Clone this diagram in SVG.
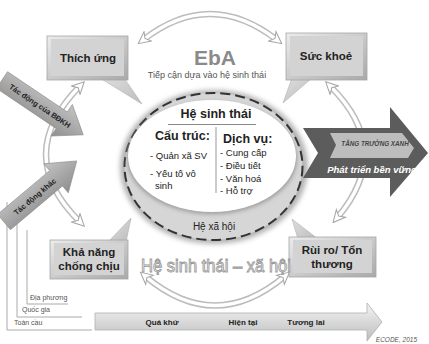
<svg xmlns="http://www.w3.org/2000/svg" width="429" height="344" viewBox="0 0 429 344">
<defs>
<style>
.t{font-family:"Liberation Sans",Arial,sans-serif;fill:#222}
.b{font-weight:bold}
.arcO{fill:none;stroke:#bcbcbc;stroke-width:6.5}
.arcI{fill:none;stroke:#fff;stroke-width:3.5;marker-start:url(#ha);marker-end:url(#ha)}
.scale{fill:none;stroke:#a0a0a0;stroke-width:0.9}
.st{font-family:"Liberation Sans",Arial,sans-serif;font-size:7px;fill:#555}
.boxO{fill:url(#boxg);stroke:#a5a5a5;stroke-width:0.8}
.boxI{fill:#d3d3d3}
.tail{fill:url(#tailg);stroke:#b0b0b0;stroke-width:0.6}
</style>
<marker id="ha" viewBox="0 0 14 14" refX="7" refY="7" markerWidth="14" markerHeight="14" markerUnits="userSpaceOnUse" orient="auto-start-reverse">
<path d="M1,1 L13,7 L1,13 L4.5,7 Z" fill="#fff" stroke="#a5a5a5" stroke-width="1"/>
</marker>
<linearGradient id="boxg" x1="0" y1="0" x2="1" y2="1">
<stop offset="0" stop-color="#ececec"/>
<stop offset="1" stop-color="#a9a9a9"/>
</linearGradient>
<linearGradient id="tailg" x1="0" y1="0" x2="1" y2="1">
<stop offset="0" stop-color="#dedede"/>
<stop offset="1" stop-color="#bdbdbd"/>
</linearGradient>
<linearGradient id="arrg" x1="0" y1="0" x2="0" y2="1">
<stop offset="0" stop-color="#c4c4c4"/>
<stop offset="1" stop-color="#8e8e8e"/>
</linearGradient>
<linearGradient id="timeg" x1="0" y1="0" x2="0" y2="1">
<stop offset="0" stop-color="#f4f4f4"/>
<stop offset="1" stop-color="#bdbdbd"/>
</linearGradient>
<filter id="blur" x="-20%" y="-20%" width="140%" height="140%">
<feGaussianBlur stdDeviation="2.5"/>
</filter>
<filter id="blur2" x="-20%" y="-20%" width="140%" height="140%">
<feGaussianBlur stdDeviation="2"/>
</filter>
</defs>
<rect width="429" height="344" fill="#fff"/>

<g id="connectors">
<path class="arcO" d="M143,40 Q210,-12 277,40"/>
<path class="arcI" d="M143,40 Q210,-12 277,40"/>
<path class="arcO" d="M80,222 Q12,155 80,86"/>
<path class="arcI" d="M80,222 Q12,155 80,86"/>
<path class="arcO" d="M330,86 Q395,150 337,218"/>
<path class="arcI" d="M330,86 Q395,150 337,218"/>
<path class="arcO" d="M145,276 Q215,335 285,276"/>
<path class="arcI" d="M145,276 Q215,335 285,276"/>
</g>

<g id="scales">
<path class="scale" d="M27,230 V304 H68"/>
<path class="scale" d="M17,215 V317 H82"/>
<path class="scale" d="M7,202 V330 H92"/>
<text class="st" x="30" y="300">Địa phương</text>
<text class="st" x="22" y="312">Quốc gia</text>
<text class="st" x="14" y="325">Toàn cầu</text>
</g>

<g id="timeline">
<path d="M95,313 H367 V303 L382,322 L367,341 V330 H95 Z" fill="url(#timeg)" stroke="#b0b0b0" stroke-width="0.8"/>
<text class="t b" x="162" y="325" font-size="8" text-anchor="middle" fill="#333">Quá khứ</text>
<text class="t b" x="243" y="325" font-size="8" text-anchor="middle" fill="#333">Hiện tại</text>
<text class="t b" x="306" y="325" font-size="8" text-anchor="middle" fill="#333">Tương lai</text>
</g>
<text x="417" y="342" font-family="Liberation Sans,Arial,sans-serif" font-size="6.5" font-style="italic" fill="#555" text-anchor="end">ECODE, 2015</text>

<g id="eba">
<text x="215" y="65" font-family="Liberation Sans,Arial,sans-serif" font-size="21" font-weight="bold" fill="#8a8a8a" text-anchor="middle">EbA</text>
<text x="207" y="78" font-family="Liberation Sans,Arial,sans-serif" font-size="9" fill="#555" text-anchor="middle">Tiếp cận dựa vào hệ sinh thái</text>
</g>

<g id="center">
<ellipse cx="214" cy="167" rx="94" ry="77" fill="#b3b3b3" filter="url(#blur)"/>
<ellipse cx="213.5" cy="166.5" rx="89" ry="73.5" fill="#d6d6d6" stroke="#333" stroke-width="2" stroke-dasharray="10 5"/>
<ellipse cx="212" cy="158" rx="85" ry="56" fill="#9c9c9c" filter="url(#blur2)"/>
<ellipse cx="212" cy="156" rx="84" ry="56" fill="#fff"/>
<text class="t b" x="216" y="118" font-size="12.5" text-anchor="middle">Hệ sinh thái</text>
<line x1="168" y1="124.5" x2="256" y2="124.5" stroke="#888" stroke-width="1"/>
<line x1="216" y1="127" x2="216" y2="193" stroke="#999" stroke-width="1"/>
<text class="t b" x="155" y="140" font-size="12.5">Cấu trúc:</text>
<text class="t" x="150" y="159" font-size="9.5">- Quản xã SV</text>
<text class="t" x="150" y="177" font-size="9.5">- Yếu tố vô</text>
<text class="t" x="155" y="189" font-size="9.5">sinh</text>
<text class="t b" x="223" y="143" font-size="12.5">Dịch vụ:</text>
<text class="t" x="220" y="156" font-size="9.5">- Cung cấp</text>
<text class="t" x="220" y="169" font-size="9.5">- Điều tiết</text>
<text class="t" x="220" y="182" font-size="9.5">- Văn hoá</text>
<text class="t" x="220" y="194" font-size="9.5">- Hỗ trợ</text>
<text class="t" x="214" y="230" font-size="10" text-anchor="middle">Hệ xã hội</text>
</g>

<g id="thich-ung">
<polygon class="tail" points="100,78 124,78 142,104"/>
<rect class="boxO" x="47" y="36" width="81" height="44"/>
<rect class="boxI" x="51" y="39" width="73" height="37"/>
<text class="t b" x="88" y="62" font-size="11.5" text-anchor="middle">Thích ứng</text>
</g>

<g id="suc-khoe">
<polygon class="tail" points="292,78 312,78 283,103"/>
<rect class="boxO" x="286" y="33" width="81" height="47"/>
<rect class="boxI" x="290" y="36" width="73" height="40"/>
<text class="t b" x="326" y="60" font-size="11.5" text-anchor="middle">Sức khoẻ</text>
</g>

<g id="kha-nang">
<polygon class="tail" points="108,242 126,242 131,218"/>
<rect class="boxO" x="50" y="240" width="78" height="39"/>
<rect class="boxI" x="54" y="243" width="70" height="32"/>
<text class="t b" x="89" y="256" font-size="11.5" text-anchor="middle">Khả năng</text>
<text class="t b" x="89" y="270" font-size="11.5" text-anchor="middle">chống chịu</text>
</g>

<g id="rui-ro">
<polygon class="tail" points="298,239 318,239 292,219"/>
<rect class="boxO" x="289" y="237" width="87" height="40"/>
<rect class="boxI" x="293" y="240" width="79" height="33"/>
<text class="t b" x="332" y="254" font-size="11.5" text-anchor="middle">Rùi ro/ Tổn</text>
<text class="t b" x="332" y="268" font-size="11.5" text-anchor="middle">thương</text>
</g>

<text x="216" y="272" font-family="Liberation Sans,Arial,sans-serif" font-size="17.5" fill="#fff" stroke="#999" stroke-width="0.9" text-anchor="middle" textLength="150" lengthAdjust="spacingAndGlyphs">Hệ sinh thái – xã hội</text>

<g id="tac-dong-bdkh" transform="translate(2,80) rotate(34)">
<path d="M0,-10 H72 V-19 L98,0 L72,19 V10 H0 Z" fill="url(#arrg)" stroke="#8a8a8a" stroke-width="0.6"/>
<text class="t b" x="46" y="3" font-size="7.5" text-anchor="middle">Tác động của BĐKH</text>
</g>

<g id="tac-dong-khac" transform="translate(4,222) rotate(-40)">
<path d="M0,-10 H68 V-19 L95,0 L68,19 V10 H0 Z" fill="url(#arrg)" stroke="#8a8a8a" stroke-width="0.6"/>
<text class="t b" x="40" y="3" font-size="7.5" text-anchor="middle">Tác động khác</text>
</g>

<g id="green-growth">
<polygon points="303,128 390,128 390,107 428,153 390,197 390,178 303,178 318,153" fill="#5c5c5c"/>
<polygon points="330,133 402,133 414,148 408,158 330,158 336,145" fill="#bdbdbd"/>
<text x="375" y="146" font-family="Liberation Sans,Arial,sans-serif" font-size="6.3" font-weight="bold" font-style="italic" fill="#444" text-anchor="middle">TĂNG TRƯỞNG XANH</text>
<text x="372" y="173" font-family="Liberation Sans,Arial,sans-serif" font-size="9.5" font-weight="bold" font-style="italic" fill="#fff" text-anchor="middle">Phát triển bền vững</text>
</g>
</svg>
